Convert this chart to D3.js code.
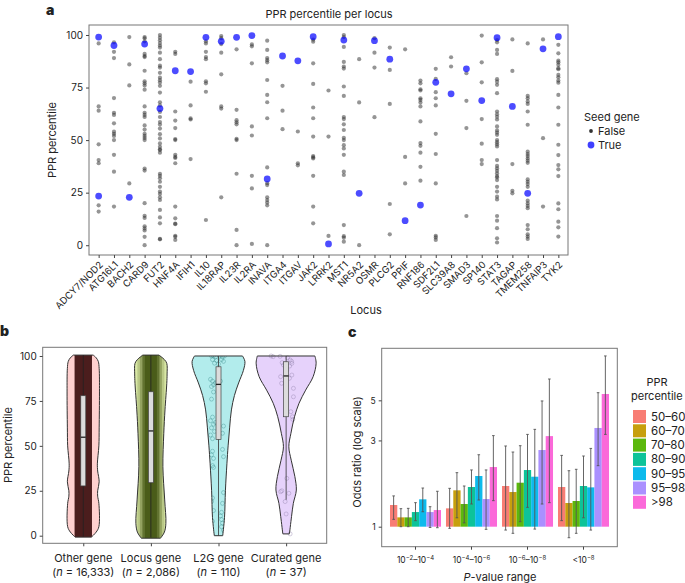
<!DOCTYPE html>
<meta charset="utf-8">
<script src="https://d3js.org/d3.v7.min.js"></script>
<style>
  body { margin: 0; background: #fff; }
  svg text { font-family: Inter, "Liberation Sans", sans-serif; fill: #222; }
</style>
<svg id="fig"></svg>
<script>

// ---- panel a: PPR percentile of each gene per locus ----
let loci = ["ADCY7/NOD2","ATG16L1","BACH2","CARD9","FUT2","HNF4A","IFIH1","IL10","IL18RAP","IL23R",
  "IL2RA","INAVA","ITGA4","ITGAV","JAK2","LRRK2","MST1","NR5A2","OSMR","PLCG2","PPIF","RNF186",
  "SDF2L1","SLC39A8","SMAD3","SP140","STAT3","TAGAP","TMEM258","TNFAIP3","TYK2"];

// non-seed genes (False), same order as loci
let seedFalse = [
  [96, 66, 64, 48, 40.5, 39, 19, 16],
  [96.5, 92, 89, 70, 63, 62, 58, 54, 53, 52, 50, 43, 35, 18.4],
  [99, 86, 76, 29.4],
  [99, 98.4, 97, 91, 90, 89.5, 83, 78, 77, 76, 74, 66, 63, 62, 61, 57, 55, 53, 52, 51, 50, 36.5, 35.5, 20, 14, 13, 9, 8, 7, 4, 0],
  [100, 98.7, 97.5, 96.2, 95, 94, 91.6, 88.5, 85.4, 84.5, 82, 79.7, 78.5, 77.4, 75.8, 72.6, 68, 66.5, 63.4, 61, 58.6, 57.4, 55.5, 52.8, 50.8, 48.4, 46.8, 45.6, 45.3, 44, 34, 33, 31.8, 30.2, 27.8, 25.5, 24.4, 22.8, 21.5, 16.8, 13.2, 10.4, 3, 2.8],
  [92, 91, 63.6, 59.3, 55.7, 50.5, 50, 43, 42, 41.5, 39, 18.4, 12.8, 10.3, 10, 4.5, 4, 2.5],
  [77.8, 66.5, 60.3, 59.8, 41],
  [97, 96, 92, 89.5, 88.5, 78, 77, 73, 12],
  [99.5, 98.5, 95.7, 91.6, 81.3, 66, 65, 22.8],
  [93.2, 64.4, 59.5, 58.5, 57.5, 50.6, 50, 34, 7.3, 0],
  [95.5, 94.6, 86.5, 56.5, 52.2, 33, 27, 0.6],
  [97.3, 92.9, 89, 88, 87, 78.6, 71.5, 68, 60.4, 37, 29.5, 28.6, 22.8, 21.5, 20.3, 19, 0],
  [75.8, 64, 55.2],
  [54.1, 39, 38],
  [97.8, 96.8, 86.5, 76.7, 65.5, 60.4, 51.7, 42.4, 41.8, 41.3, 33, 18.4, 10.4],
  [73.6, 51.7, 4.4],
  [100, 99, 94.3, 87.2, 85, 84, 75.5, 71, 61, 60, 57.5, 54.8, 51.1, 50, 47.6, 46, 43, 35, 33.4, 9.6, 4.3, 3.6, 1.7],
  [88.5, 67.9, 0],
  [98.5, 91.6, 84.5, 60.9],
  [94, 83.4, 67.2, 19.6, 5.2],
  [93.2, 42, 29.4],
  [78.3, 77, 74.2, 73.6, 69.9, 69.1, 67.9, 66, 58.9, 48.6, 47.3, 44, 37.3, 30.7],
  [83.9, 79.1, 72.8, 69.9, 66.5, 53, 43.4, 29.4, 4.5, 3.7, 2.5],
  [89.4, 85],
  [81.8, 68.7, 55.7, 13.9],
  [99.7, 87, 77.5, 60, 48.3, 40.5, 38.6],
  [97.6, 96.5, 92.9, 91, 79, 77.8, 76.3, 72.3, 63.6, 62.3, 61.1, 59.8, 56.5, 54.6, 53.6, 52.5, 50, 49, 48, 47, 40.5, 37.7, 36.6, 35.4, 34.2, 32.9, 32.3, 31, 27.8, 25.5, 23.1, 21.8, 13.9, 11.7, 8.1, 3.3, 1.3],
  [97.9, 82.9, 38.6, 25.9, 24.7],
  [96, 71, 69.9, 68.4, 67.2, 63.6, 57.3, 44.5, 43.4, 42.4, 41.3, 40.2, 39.2, 31.3, 30.2, 29.1, 27.8, 21.2, 19.9, 18.7, 17.6, 9.6, 7.6, 5.2, 4.1, 3],
  [97.9, 50.9, 18.4],
  [95.3, 91.3, 87.8, 87, 85.8, 84.2, 83.7, 81, 79.9, 78.3, 77.3, 71.5, 65.5, 57.3, 47.8, 42.9, 38.1, 36.1, 32.9, 19.9, 17.1, 11.2, 8.5, 4.1]
];

// seed genes (True)
let seedTrue = [[99, 23.4],[95],[22.8],[95.7],[65],[83],[82.6],[98.9],[97],[98.9],[99.7],[31.5],[90],[87.7],
  [99.2],[0.6],[97.6],[24.7],[97.3],[88.5],[11.7],[19.1],[77.5],[72],[83.9],[68.8],[98.7],[66],[24.7],[93.4],[99.2]];

// ---- panel b: violins ----
let geneClasses = ["Other gene", "Locus gene", "L2G gene", "Curated gene"];
let geneCounts = ["16,333", "2,086", "110", "37"];
// density profiles [percentile, relative width]
let otherDensity = [[100.5,.33],[99,.43],[97,.5],[93,.53],[80,.54],[60,.53],[50,.52],[40,.47],[36,.48],[30,.53],[25,.48],[22,.48],[18,.52],[5,.52],[2,.43],[-0.8,.27]];
let locusDensity = [[100.5,.27],[98,.45],[95.9,.53],[90,.54],[84.8,.53],[70,.47],[57,.43],[38.4,.40],[19.9,.46],[6.9,.5],[2,.45],[-1.4,.32]];
let l2gDensity = [[100,.8],[97,.88],[92,.83],[85,.67],[78,.53],[70,.43],[60,.37],[50,.32],[40,.28],[25,.23],[10,.2],[0,.14]];
let curatedDensity = [[100,.96],[96,1.0],[88.5,.9],[81,.65],[73.7,.43],[66.2,.28],[57,.16],[49.5,.09],[42,.17],[33,.29],[25.4,.34],[18,.24],[10.6,.18],[1,.11]];
let boxQ1 = [27.7, 29.5, 53.6, 66.2];
let boxMedian = [54.8, 58.3, 84.2, 88.9];
let boxQ3 = [77.9, 80.1, 94, 96.8];
let whiskerLo = [-0.5, -1, 0, 20];
let whiskerHi = [100.5, 100.5, 100, 100];
// individual genes shown for the two small groups
let l2gVals = [100,100,99.5,100,99.5,100,98,97.5,98,97,96,95.5, 87,86,85,85.5,86,84,83, 80,76,
  66,64,62,60,58,56,54,61,57,63, 47,45,43,48,44,39,38, 21,19,24,18,14,13,11,9,7,8,3,2,5];
let l2gJitter = [-7,-5,-3,1,4,6,-6,-2,3,5,-4,0, -8,-6,-3,-1,2,-5,-7, -5,-7,
  -6,-8,-5,-7,-4,-8,-6,5,4,-3, -6,-7,-5,4,5,-6,-5, -6,-7,5,4,-5,3,2,3,4,-6,5,6,3];
let curatedVals = [100,99.6,99.8,99,97.8,97,96.3,95.9,95,94.4,92.2,89.4,88.5,87.6,84.8,82,77.3,69,66.2,64.7,31.9,25,23.6,24.5,19,12.1,1];
let curatedJitter = [-15,-13,-6,1.5,4,5.5,-4,5.7,-2.7,3.5,0.7,5.7,-5.5,3.3,-4.5,7.3,7.3,4.7,6.3,6.7,0.7,-4.3,2.7,-5.5,-1,0,4];

// ---- panel c: odds ratios ----
let pRanges = ["1e-2", "1e-4", "1e-6", "1e-8"];
let pprBins = ["50\u201360","60\u201370","70\u201380","80\u201390","90\u201395","95\u201398",">98"];
let oddsRatio = [
  [1.318, 1.126, 1.126, 1.205, 1.417, 1.205, 1.236],
  [1.263, 1.589, 1.335, 1.658, 1.907, 1.422, 2.138],
  [1.679, 1.555, 1.751, 2.058, 1.89, 2.655, 3.17],
  [1.658, 1.352, 1.387, 1.679, 1.65, 3.516, 5.42]
];
let ciLow = [
  [1.098, 1.0, 1.0, 1.08, 1.21, 0.99, 0.987],
  [0.979, 1.12, 1.05, 1.335, 1.405, 0.967, 1.393],
  [0.958, 0.919, 1.066, 1.279, 0.97, 1.335, 1.358],
  [1.08, 0.869, 0.919, 1.12, 0.958, 2.175, 3.24]
];
let ciHigh = [
  [1.48, 1.258, 1.263, 1.358, 1.636, 1.29, 1.57],
  [1.63, 1.99, 1.679, 2.06, 2.5, 2.06, 3.19],
  [2.795, 2.588, 2.805, 3.24, 3.455, 4.96, 6.56],
  [2.48, 2.04, 2.077, 2.46, 2.71, 5.51, 8.8]
];

let fig = d3.select("#fig").attr("width", 685).attr("height", 583);
fig.append("rect").attr("width", 685).attr("height", 583).attr("fill", "#fff");

function styleAxis(g, size) {
  g.attr("font-size", size).attr("color", "#444");
  g.select(".domain").remove();
  g.selectAll("text").style("font-size", size + "px");
}

// panel letters
fig.append("text").attr("x", 46).attr("y", 15).text("a").style("font-size", "14px").style("font-weight", 900);
fig.append("text").attr("x", 0).attr("y", 336).text("b").style("font-size", "14px").style("font-weight", 900);
fig.append("text").attr("x", 348).attr("y", 337).text("c").style("font-size", "14px").style("font-weight", 900);

// ================= panel a =================
let aL = 89, aR = 568, aT = 25, aB = 255;
let xA = d3.scalePoint().domain(loci).range([aL, aR]).padding(0.63);
let yA = d3.scaleLinear().domain([-4.65, 104.75]).range([aB, aT]);

let pa = fig.append("g");
pa.append("rect").attr("x", aL).attr("y", aT).attr("width", aR - aL).attr("height", aB - aT)
  .attr("fill", "none").attr("stroke", "#777");

let falsePts = loci.flatMap((l, i) => seedFalse[i].map(v => ({l: l, v: v})));
let truePts = loci.flatMap((l, i) => seedTrue[i].map(v => ({l: l, v: v})));

pa.append("g").selectAll("circle").data(falsePts).join("circle")
  .attr("cx", d => xA(d.l)).attr("cy", d => yA(d.v)).attr("r", 2.1)
  .attr("fill", "#2b2b2b").attr("fill-opacity", 0.5);
pa.append("g").selectAll("circle").data(truePts).join("circle")
  .attr("cx", d => xA(d.l)).attr("cy", d => yA(d.v)).attr("r", 3.4)
  .attr("fill", "#0000ff").attr("fill-opacity", 0.7);

let ayA = pa.append("g").attr("transform", `translate(${aL},0)`)
  .call(d3.axisLeft(yA).tickValues([0, 25, 50, 75, 100]).tickSize(3));
styleAxis(ayA, 10);

let axA = pa.append("g").attr("transform", `translate(0,${aB})`)
  .call(d3.axisBottom(xA).tickSize(3));
styleAxis(axA, 9.5);
axA.selectAll("text").attr("x", 0).attr("y", 0).attr("dy", "0.35em")
  .attr("transform", "translate(2,8) rotate(-45)").style("text-anchor", "end");

pa.append("text").attr("x", 329).attr("y", 18).attr("text-anchor", "middle")
  .style("font-size", "11px").text("PPR percentile per locus");
pa.append("text").attr("transform", "translate(55.5,140) rotate(-90)").attr("text-anchor", "middle")
  .style("font-size", "11px").text("PPR percentile");
pa.append("text").attr("x", 366).attr("y", 314).attr("text-anchor", "middle")
  .style("font-size", "11px").text("Locus");

// legend a
pa.append("text").attr("x", 584).attr("y", 121).style("font-size", "11px").text("Seed gene");
pa.append("circle").attr("cx", 591).attr("cy", 131).attr("r", 1.9).attr("fill", "#333");
pa.append("text").attr("x", 598).attr("y", 135).style("font-size", "11px").text("False");
pa.append("circle").attr("cx", 591).attr("cy", 145).attr("r", 3.4).attr("fill", "#0000ff").attr("fill-opacity", 0.75);
pa.append("text").attr("x", 598).attr("y", 149).style("font-size", "11px").text("True");

// ================= panel b =================
let bL = 42.7, bR = 326.7, bT = 347.3, bB = 543.3;
let xB = d3.scalePoint().domain(geneClasses).range([bL, bR]).padding(0.6);
let yB = d3.scaleLinear().domain([-4.23, 104.84]).range([bB, bT]);
let wB = d3.scaleLinear().domain([0, 1]).range([0, 30]);

let pb = fig.append("g");
pb.append("rect").attr("x", bL).attr("y", bT).attr("width", bR - bL).attr("height", bB - bT)
  .attr("fill", "none").attr("stroke", "#777");

let violinArea = d3.area()
  .y(d => yB(d[0])).x0(d => -wB(d[1])).x1(d => wB(d[1]))
  .curve(d3.curveCatmullRom);

let densities = [otherDensity, locusDensity, l2gDensity, curatedDensity];
let violinFill = ["#ffd0cf", "#d9e8a6", "#b2ecec", "#e6d2fb"];
let defs = fig.append("defs");

geneClasses.forEach((g, i) => {
  let cx = xB(g);
  let vg = pb.append("g").attr("transform", `translate(${cx},0)`);
  defs.append("clipPath").attr("id", "vclip" + i)
    .append("path").attr("d", violinArea(densities[i]));
  vg.append("path").attr("d", violinArea(densities[i])).attr("fill", violinFill[i]);

  let cg = vg.append("g").attr("clip-path", `url(#vclip${i})`);
  if (i === 0) {
    cg.append("rect").attr("x", -8.7).attr("width", 17.4)
      .attr("y", yB(100.5)).attr("height", yB(-0.8) - yB(100.5)).attr("fill", "#4b1d1d");
  }
  if (i === 1) {
    [[13.5, 0.2], [11, 0.3], [8.5, 0.55], [6, 0.6]].forEach(b => {
      cg.append("rect").attr("x", -b[0]).attr("width", 2 * b[0])
        .attr("y", yB(100.5)).attr("height", yB(-1.4) - yB(100.5))
        .attr("fill", "#3a4d0a").attr("fill-opacity", b[1]);
    });
  }
  if (i === 2) {
    cg.selectAll("circle").data(l2gVals).join("circle")
      .attr("cx", (d, j) => l2gJitter[j]).attr("cy", d => yB(d)).attr("r", 2)
      .attr("fill", "none").attr("stroke", "#3d8f8f").attr("stroke-opacity", 0.55).attr("stroke-width", 0.7);
  }
  if (i === 3) {
    vg.selectAll("circle").data(curatedVals).join("circle")
      .attr("cx", (d, j) => curatedJitter[j]).attr("cy", d => yB(d)).attr("r", 2)
      .attr("fill", "none").attr("stroke", "#8f7fa8").attr("stroke-opacity", 0.55).attr("stroke-width", 0.7);
  }
  vg.append("path").attr("d", violinArea(densities[i])).attr("fill", "none")
    .attr("stroke", "#333").attr("stroke-width", 1);

  // whisker + box
  vg.append("line").attr("x1", 0).attr("x2", 0).attr("y1", yB(whiskerLo[i])).attr("y2", yB(whiskerHi[i]))
    .attr("stroke", i < 2 ? "#222" : "#333").attr("stroke-width", 0.8);
  vg.append("rect").attr("x", -2.5).attr("width", 5)
    .attr("y", yB(boxQ3[i])).attr("height", yB(boxQ1[i]) - yB(boxQ3[i]))
    .attr("fill", "#dcdcdc").attr("stroke", "#444").attr("stroke-width", 0.7);
  vg.append("line").attr("x1", -2.5).attr("x2", 2.5).attr("y1", yB(boxMedian[i])).attr("y2", yB(boxMedian[i]))
    .attr("stroke", "#222").attr("stroke-width", 1.3);
});

let ayB = pb.append("g").attr("transform", `translate(${bL},0)`)
  .call(d3.axisLeft(yB).tickValues([0, 25, 50, 75, 100]).tickSize(3));
styleAxis(ayB, 10);
let axB = pb.append("g").attr("transform", `translate(0,${bB})`)
  .call(d3.axisBottom(xB).tickSize(3).tickFormat(""));
styleAxis(axB, 11);
geneClasses.forEach((g, i) => {
  pb.append("text").attr("x", xB(g)).attr("y", 562).attr("text-anchor", "middle")
    .style("font-size", "11px").text(g);
  let t = pb.append("text").attr("x", xB(g)).attr("y", 575.5).attr("text-anchor", "middle")
    .style("font-size", "11px");
  t.append("tspan").text("(");
  t.append("tspan").style("font-style", "italic").text("n");
  t.append("tspan").text(" = " + geneCounts[i] + ")");
});
pb.append("text").attr("transform", "translate(12,445) rotate(-90)").attr("text-anchor", "middle")
  .style("font-size", "11px").text("PPR percentile");

// ================= panel c =================
let cL = 381.7, cR = 617.3, cT = 348.3, cB = 546.7;
let xC = d3.scaleBand().domain(pRanges).range([cL, cR]).paddingInner(0.089).paddingOuter(0.148);
let xCi = d3.scaleBand().domain(pprBins).range([0, xC.bandwidth()]);
let yC = d3.scaleLog().domain([0.775, 9.7]).range([cB, cT]);
let binColor = d3.scaleOrdinal().domain(pprBins)
  .range(["#F8766D", "#C49A00", "#53B400", "#00C094", "#00B6EB", "#A58AFF", "#FB61D7"]);

let pc = fig.append("g");
pc.append("rect").attr("x", cL).attr("y", cT).attr("width", cR - cL).attr("height", cB - cT)
  .attr("fill", "none").attr("stroke", "#777");

let barData = pRanges.flatMap((p, i) => pprBins.map((b, j) => ({
  p: p, b: b, or: oddsRatio[i][j], lo: ciLow[i][j], hi: ciHigh[i][j]
})));

pc.append("g").selectAll("rect").data(barData).join("rect")
  .attr("x", d => xC(d.p) + xCi(d.b)).attr("width", xCi.bandwidth())
  .attr("y", d => yC(d.or)).attr("height", d => yC(1) - yC(d.or))
  .attr("fill", d => binColor(d.b)).attr("fill-opacity", 0.95);

let eb = pc.append("g").selectAll("g").data(barData).join("g")
  .attr("transform", d => `translate(${xC(d.p) + xCi(d.b) + xCi.bandwidth() / 2},0)`);
eb.append("line").attr("y1", d => yC(d.lo)).attr("y2", d => yC(d.hi))
  .attr("stroke", "#555").attr("stroke-width", 0.9);
eb.append("line").attr("x1", -1.3).attr("x2", 1.3).attr("y1", d => yC(d.hi)).attr("y2", d => yC(d.hi))
  .attr("stroke", "#555").attr("stroke-width", 0.9);
eb.append("line").attr("x1", -1.3).attr("x2", 1.3).attr("y1", d => yC(d.lo)).attr("y2", d => yC(d.lo))
  .attr("stroke", "#555").attr("stroke-width", 0.9);

let ayC = pc.append("g").attr("transform", `translate(${cL},0)`)
  .call(d3.axisLeft(yC).tickValues([1, 3, 5]).tickFormat(d3.format("d")).tickSize(3));
styleAxis(ayC, 8.5);
let axC = pc.append("g").attr("transform", `translate(0,${cB})`)
  .call(d3.axisBottom(xC).tickSize(3).tickFormat(""));
styleAxis(axC, 8.5);

// superscript tick labels
let pLabelParts = [
  [["10", 0], ["\u22122", 1], ["\u201310", 0], ["\u22124", 1]],
  [["10", 0], ["\u22124", 1], ["\u201310", 0], ["\u22126", 1]],
  [["10", 0], ["\u22126", 1], ["\u201310", 0], ["\u22128", 1]],
  [["<10", 0], ["\u22128", 1]]
];
pRanges.forEach((p, i) => {
  let t = pc.append("text").attr("x", xC(p) + xC.bandwidth() / 2).attr("y", 563)
    .attr("text-anchor", "middle").style("font-size", "8.5px");
  let prevSup = false;
  pLabelParts[i].forEach(part => {
    let ts = t.append("tspan").text(part[0]);
    if (part[1]) { ts.attr("dy", -3).style("font-size", "6px"); prevSup = true; }
    else if (prevSup) { ts.attr("dy", 3); prevSup = false; }
  });
});

let xtC = pc.append("text").attr("x", 500).attr("y", 581).attr("text-anchor", "middle").style("font-size", "11px");
xtC.append("tspan").style("font-style", "italic").text("P");
xtC.append("tspan").text("-value range");
pc.append("text").attr("transform", "translate(361,452) rotate(-90)").attr("text-anchor", "middle")
  .style("font-size", "11px").text("Odds ratio (log scale)");

// legend c
pc.append("text").attr("x", 657).attr("y", 386).attr("text-anchor", "middle").style("font-size", "11px").text("PPR");
pc.append("text").attr("x", 631).attr("y", 400).style("font-size", "11px").text("percentile");
let lg = pc.append("g").selectAll("g").data(pprBins).join("g")
  .attr("transform", (d, i) => `translate(633,${410 + i * 14.3})`);
lg.append("rect").attr("width", 13).attr("height", 13).attr("fill", d => binColor(d)).attr("fill-opacity", 0.95);
lg.append("text").attr("x", 18).attr("y", 6.5).attr("dy", "0.35em").style("font-size", "11.5px").text(d => d);

</script>
